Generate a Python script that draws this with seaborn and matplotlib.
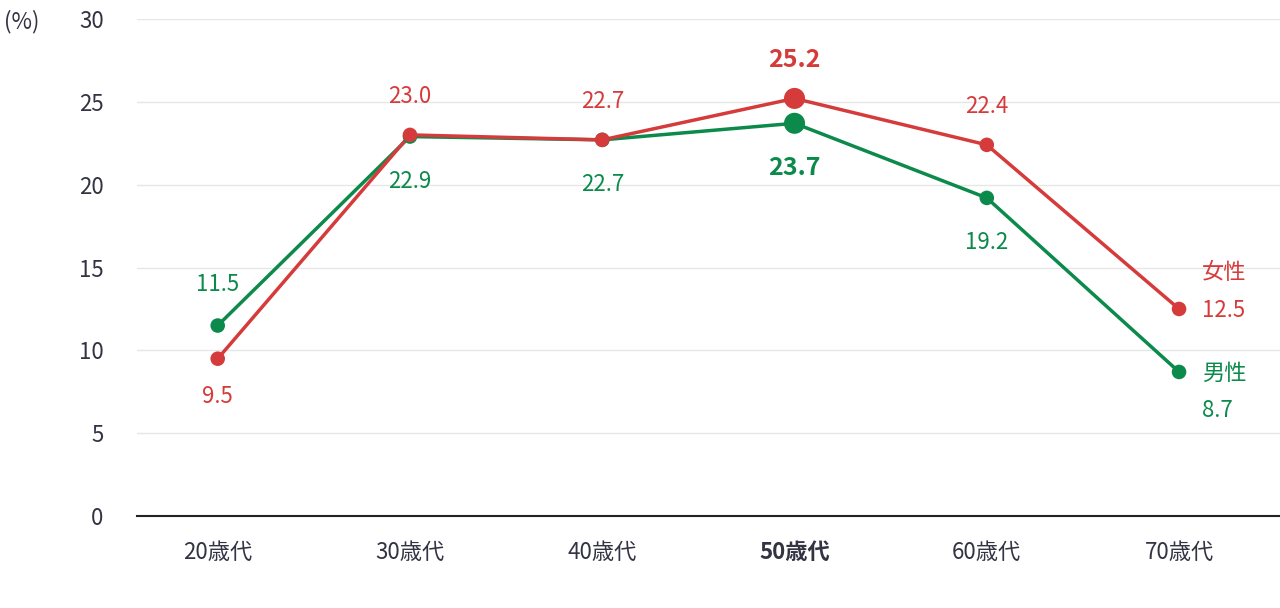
import matplotlib
matplotlib.use("Agg")
import matplotlib.pyplot as plt
import seaborn as sns
import pandas as pd

plt.rcParams["font.family"] = "Noto Sans CJK JP"

ages = ["20歳代", "30歳代", "40歳代", "50歳代", "60歳代", "70歳代"]
female = [9.5, 23.0, 22.7, 25.2, 22.4, 12.5]
male = [11.5, 22.9, 22.7, 23.7, 19.2, 8.7]
yticks = [0, 5, 10, 15, 20, 25, 30]

RED = "#d63b3b"
GREEN = "#0b8a4b"
TEXT = "#333344"

df = pd.DataFrame({"x": range(len(ages)), "female": female, "male": male})

fig = plt.figure(figsize=(12.8, 6.08), dpi=100)
ax = fig.add_axes([0.107, 0.151, 0.893, 0.818])

sns.lineplot(data=df, x="x", y="male", color=GREEN, lw=2.5, ax=ax)
sns.lineplot(data=df, x="x", y="female", color=RED, lw=2.5, ax=ax)
for col, c in [("male", GREEN), ("female", RED)]:
    sizes = [230 if i == 3 else 110 for i in df["x"]]
    ax.scatter(df["x"], df[col], s=sizes, color=c, zorder=3, edgecolors="none")

# value labels
for i, (f, m) in enumerate(zip(female, male)):
    bold = "bold" if i == 3 else "normal"
    fs = 18 if i == 3 else 16
    if i == 0:
        fpos, mpos = f - 2.3, m + 2.5
    elif i == 5:
        continue
    else:
        fpos, mpos = f + 2.3, m - 2.7
    ax.text(i, fpos, f"{f:.1f}", color=RED, ha="center", va="center", fontsize=fs, weight=bold)
    ax.text(i, mpos, f"{m:.1f}", color=GREEN, ha="center", va="center", fontsize=fs, weight=bold)

ax.text(5.12, 14.7, "女性", color=RED, fontsize=16, va="center")
ax.text(5.12, 12.4, "12.5", color=RED, fontsize=16, va="center")
ax.text(5.12, 8.6, "男性", color=GREEN, fontsize=16, va="center")
ax.text(5.12, 6.4, "8.7", color=GREEN, fontsize=16, va="center")

ax.set_xlim(-0.42, 5.525)
ax.set_ylim(0, 30)
ax.set_yticks(yticks)
ax.set_xticks(range(len(ages)))
ax.set_xticklabels(ages)
for k, lbl in enumerate(ax.get_xticklabels()):
    if k == 3:
        lbl.set_fontweight("bold")
ax.tick_params(axis="both", length=0, labelsize=16, colors=TEXT)
ax.tick_params(axis="x", pad=18)
ax.tick_params(axis="y", pad=24)
ax.grid(axis="y", color="#e6e6e6", lw=1)
ax.set_axisbelow(True)
for s in ["top", "right", "left"]:
    ax.spines[s].set_visible(False)
ax.spines["bottom"].set_color("#222222")
ax.spines["bottom"].set_linewidth(1.5)
ax.set_xlabel("")
ax.set_ylabel("")
fig.text(0.003, 0.965, "(%)", fontsize=16, color=TEXT, va="center")

fig.savefig("out.png", dpi=100)
